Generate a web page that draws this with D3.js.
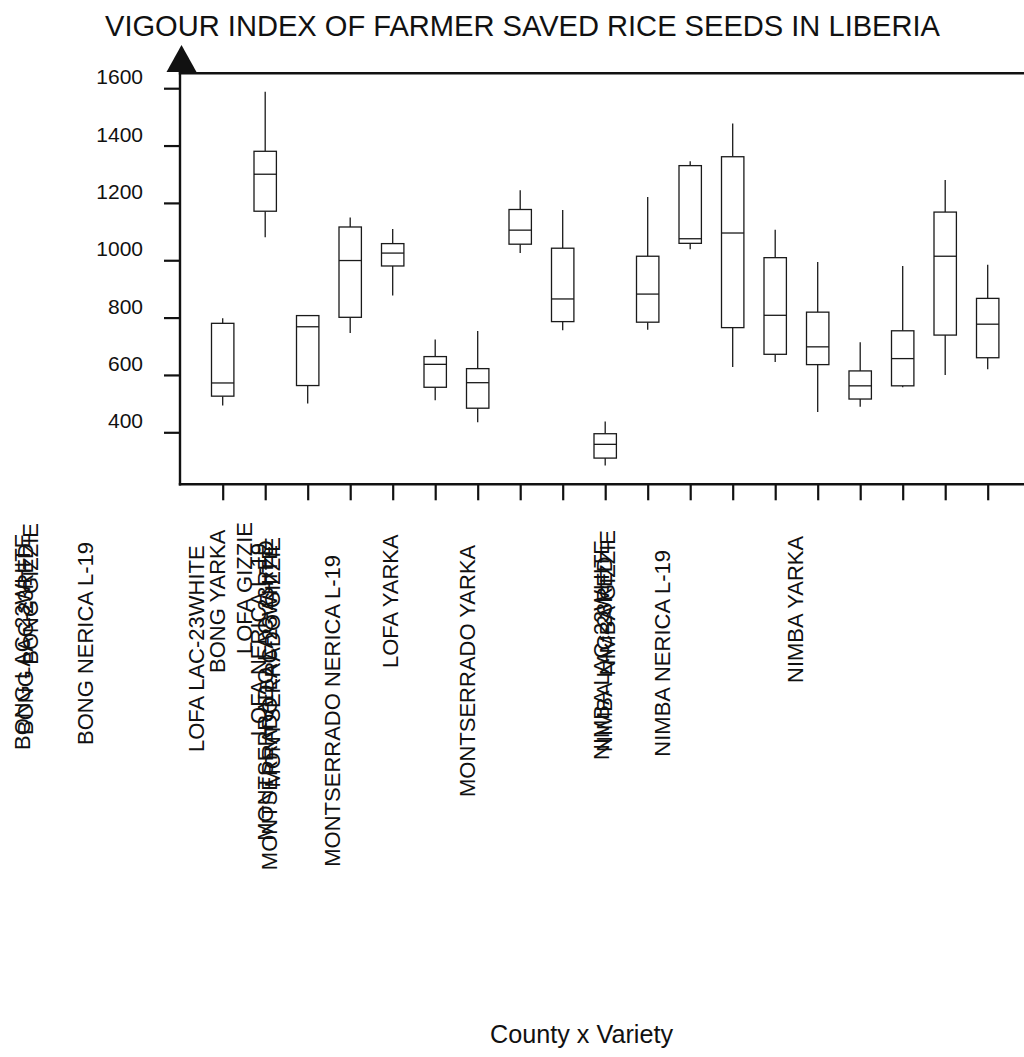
<!DOCTYPE html>
<html>
<head>
<meta charset="utf-8">
<script src="https://cdn.jsdelivr.net/npm/d3@7"></script>
<style>
  html, body { margin: 0; padding: 0; background: #fff; }
  svg { display: block; font-family: "Liberation Sans", Arial, sans-serif; }
</style>
</head>
<body>
<svg id="chart" width="1024" height="1057"></svg>
<script>
// County x variety groups, in plotting order
const categories = [
  "BONG GIZZIE", "BONG LAC-23RED", "BONG LAC-23WHITE", "BONG NERICA L-19", "BONG YARKA",
  "LOFA GIZZIE", "LOFA LAC-23WHITE", "LOFA NERICA L-19", "LOFA YARKA",
  "MONTSERRADO GIZZIE", "MONTSERRADO LAC-23RED", "MONTSERRADO LAC-23WHITE",
  "MONTSERRADO NERICA L-19", "MONTSERRADO YARKA",
  "NIMBA GIZZIE", "NIMBA LAC-23RED", "NIMBA LAC-23WHITE", "NIMBA NERICA L-19", "NIMBA YARKA"
];

// Five-number summaries of the vigour index per group
const whiskerLow  = [493, 1080, 500, 746, 877, 512, 435, 1025, 756, 284, 758, 1038, 628, 645, 471, 489, 557, 600, 620];
const quartile1   = [526, 1171, 563, 801, 980, 557, 484, 1056, 786, 310, 784, 1059, 765, 672, 636, 516, 562, 739, 660];
const medians     = [572, 1300, 768, 999, 1025, 637, 573, 1105, 865, 358, 882, 1075, 1095, 808, 698, 562, 657, 1014, 777];
const quartile3   = [780, 1380, 807, 1116, 1058, 664, 622, 1177, 1042, 395, 1014, 1330, 1361, 1009, 819, 614, 754, 1168, 867];
const whiskerHigh = [798, 1588, 809, 1149, 1109, 724, 753, 1244, 1175, 438, 1221, 1345, 1477, 1106, 994, 714, 980, 1280, 984];

const yTickValues = [400, 600, 800, 1000, 1200, 1400, 1600];

const titleText = "VIGOUR INDEX OF FARMER SAVED RICE SEEDS IN LIBERIA";
const xAxisTitle = "County x Variety";

// Where each rotated category label sits (baseline x, y, and which end y marks)
const labelLayout = [
  { x: 38,  y: 523, anchor: "end" },
  { x: 33,  y: 735, anchor: "start" },
  { x: 30,  y: 750, anchor: "start" },
  { x: 93,  y: 745, anchor: "start" },
  { x: 225, y: 673, anchor: "start" },
  { x: 252, y: 522, anchor: "end" },
  { x: 204, y: 752, anchor: "start" },
  { x: 266, y: 543, anchor: "end" },
  { x: 398, y: 668, anchor: "start" },
  { x: 280, y: 537, anchor: "end" },
  { x: 273, y: 540, anchor: "end" },
  { x: 277, y: 545, anchor: "end" },
  { x: 340, y: 555, anchor: "end" },
  { x: 475, y: 797, anchor: "start" },
  { x: 615, y: 530, anchor: "end" },
  { x: 612, y: 752, anchor: "start" },
  { x: 609, y: 760, anchor: "start" },
  { x: 670, y: 550, anchor: "end" },
  { x: 803, y: 683, anchor: "start" }
];

const boxes = categories.map((c, i) => ({
  cat: c, lo: whiskerLow[i], q1: quartile1[i], med: medians[i], q3: quartile3[i], hi: whiskerHigh[i]
}));

const svg = d3.select("#chart");
svg.append("rect").attr("width", 1024).attr("height", 1057).attr("fill", "#fff");

const plotLeft = 180, plotTop = 73.3, plotBottom = 484.3, plotRight = 1030;

const x = d3.scalePoint().domain(categories).range([222.7, 987.7]);
const y = d3.scaleLinear().domain([218.6, 1652]).range([plotBottom, plotTop]);

const ink = "#111";

// Title
svg.append("text")
  .attr("x", 105).attr("y", 36)
  .attr("font-size", 30)
  .attr("textLength", 835).attr("lengthAdjust", "spacingAndGlyphs")
  .attr("fill", ink)
  .text(titleText);

// Y axis with ticks
const yAxis = svg.append("g")
  .attr("transform", `translate(${plotLeft},0)`)
  .call(d3.axisLeft(y).tickValues(yTickValues).tickSize(16).tickFormat(d3.format("d")));
yAxis.select(".domain").remove();
yAxis.selectAll(".tick line").attr("stroke", ink).attr("stroke-width", 2.2);
yAxis.selectAll(".tick text")
  .attr("x", -37).attr("dy", null).attr("y", -4.5)
  .attr("font-size", 21).attr("font-family", "Liberation Sans, Arial, sans-serif")
  .attr("fill", ink).attr("text-anchor", "end");

// X axis ticks (labels drawn separately)
const xAxis = svg.append("g")
  .attr("transform", `translate(0,${plotBottom})`)
  .call(d3.axisBottom(x).tickSize(16).tickFormat(""));
xAxis.select(".domain").remove();
xAxis.selectAll(".tick line").attr("stroke", ink).attr("stroke-width", 2.2);

// Frame lines
const frame = svg.append("g").attr("stroke", ink).attr("stroke-width", 2.4).attr("fill", "none");
frame.append("line").attr("x1", plotLeft).attr("x2", plotLeft).attr("y1", plotBottom + 1.2).attr("y2", 60);
frame.append("line").attr("x1", plotLeft - 1.2).attr("x2", plotRight).attr("y1", plotTop).attr("y2", plotTop);
frame.append("line").attr("x1", plotLeft - 1.2).attr("x2", plotRight).attr("y1", plotBottom).attr("y2", plotBottom);

// Arrowhead on the value axis
svg.append("path")
  .attr("d", d3.line()([[181.5, 45], [196.5, 72], [166.5, 72]]) + "Z")
  .attr("fill", ink);

// Box plots
const boxW = 22.4;
const g = svg.append("g").attr("stroke", "#1a1a1a").attr("stroke-width", 1.3).attr("fill", "none");
const bx = g.selectAll("g.box").data(boxes).join("g").attr("class", "box");

bx.append("line")
  .attr("x1", d => x(d.cat)).attr("x2", d => x(d.cat))
  .attr("y1", d => y(d.hi)).attr("y2", d => y(d.q3));
bx.append("line")
  .attr("x1", d => x(d.cat)).attr("x2", d => x(d.cat))
  .attr("y1", d => y(d.q1)).attr("y2", d => y(d.lo));
bx.append("rect")
  .attr("x", d => x(d.cat) - boxW / 2).attr("width", boxW)
  .attr("y", d => y(d.q3)).attr("height", d => y(d.q1) - y(d.q3))
  .attr("fill", "#fff");
bx.append("line")
  .attr("x1", d => x(d.cat) - boxW / 2).attr("x2", d => x(d.cat) + boxW / 2)
  .attr("y1", d => y(d.med)).attr("y2", d => y(d.med));

// Rotated category labels
svg.append("g").selectAll("text")
  .data(categories)
  .join("text")
  .attr("transform", (d, i) => `translate(${labelLayout[i].x},${labelLayout[i].y}) rotate(-90)`)
  .attr("text-anchor", (d, i) => labelLayout[i].anchor)
  .attr("font-size", 22)
  .attr("fill", ink)
  .text(d => d);

// X axis title
svg.append("text")
  .attr("x", 490).attr("y", 1043)
  .attr("font-size", 25)
  .attr("textLength", 183).attr("lengthAdjust", "spacingAndGlyphs")
  .attr("fill", ink)
  .text(xAxisTitle);
</script>
</body>
</html>
